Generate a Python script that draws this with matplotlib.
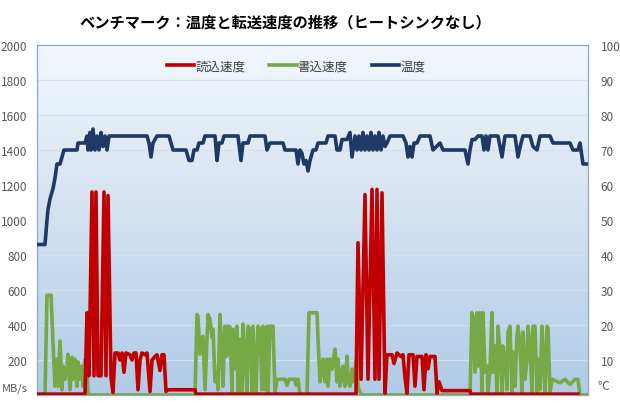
import numpy as np
import matplotlib.pyplot as plt
from matplotlib.colors import LinearSegmentedColormap

plt.rcParams['font.family'] = ['Noto Sans CJK JP', 'DejaVu Sans']

# sample index (0..551) vs value
temp_t = [0, 8, 10, 11, 13, 16, 18, 19, 20, 23, 25, 27, 40, 41, 48, 50, 51, 53, 54, 56, 58, 60, 62, 64, 66, 68, 70, 72,
          74, 110, 112, 114, 116, 118, 120, 132, 134, 136, 149, 152, 155, 157, 160, 162, 166, 168, 178, 180, 182, 185,
          187, 201, 204, 206, 211, 213, 228, 230, 233, 246, 248, 259, 261, 263, 265, 267, 269, 271, 273, 276, 279,
          281, 289, 291, 298, 300, 303, 305, 310, 313, 315, 318, 320, 322, 324, 326, 328, 330, 332, 334, 336, 338,
          340, 342, 344, 346, 348, 350, 353, 366, 369, 371, 373, 375, 377, 380, 383, 393, 396, 403, 406, 428, 431,
          433, 435, 438, 441, 445, 447, 449, 451, 453, 461, 465, 468, 478, 481, 484, 486, 493, 496, 500, 503, 513,
          516, 533, 536, 541, 543, 546, 551]
temp_v = [43, 43, 50, 53, 56, 59, 62, 64, 66, 66, 68, 70, 70, 72, 72, 74, 70, 75, 70, 76, 70, 74, 70, 75, 71, 74, 70, 74,
          74, 74, 72, 68, 72, 73, 74, 74, 72, 70, 70, 67, 67, 70, 70, 72, 72, 74, 74, 67, 72, 72,
          74, 74, 67, 72, 72, 74, 74, 70, 72, 72, 70, 70, 66, 70, 69, 66, 67, 64, 67, 70, 70,
          72, 72, 74, 74, 70, 70, 73, 73, 75, 68, 74, 70, 74, 70, 75, 70, 74, 70, 75, 70, 74,
          70, 75, 70, 74, 71, 72, 74, 74, 72, 68, 71, 68, 72, 72, 74, 74, 70, 72, 70, 70, 66,
          70, 73, 73, 74, 74, 70, 74, 70, 74, 74, 68, 74, 74, 68, 72, 74, 74, 71, 70, 74, 74,
          72, 72, 70, 70, 72, 66, 66]

read_t = [0, 48, 50, 52, 55, 57, 59, 61, 64, 67, 69, 71, 74, 76, 78, 81, 83, 85, 87, 89, 93, 95, 97, 99, 101, 103, 105,
          108, 110, 113, 115, 118, 120, 123, 125, 127, 129, 131, 158, 159, 319, 321, 324, 328, 331, 335, 338, 340, 342,
          345, 348, 350, 355, 357, 360, 364, 366, 368, 370, 372, 376, 378, 380, 385, 387, 389, 391, 393, 398, 400, 402,
          405, 433, 434, 541]
read_v = [5, 5, 470, 110, 1160, 110, 1160, 110, 110, 1160, 110, 1140, 100, 15, 240, 240, 200, 240, 130, 240, 230, 200,
          240, 240, 30, 200, 240, 230, 240, 20, 200, 220, 230, 140, 230, 230, 20, 30, 30, 5, 5, 870, 90, 1145, 90, 1175,
          90, 1175, 90, 1155, 10, 230, 230, 180, 240, 220, 230, 100, 10, 230, 230, 50, 220, 220, 30, 230, 150, 220,
          220, 10, 75, 25, 25, 5, 5]

write_t = [0, 8, 10, 14, 16, 18, 20, 21, 23, 25, 26, 28, 30, 31, 33, 35, 36, 38, 40, 41, 43, 45, 46, 48, 50, 51, 53,
           158, 160, 161, 163, 166, 168, 171, 173, 175, 176, 178, 180, 181, 183, 185, 186, 188, 190, 191, 193, 195,
           196, 198, 200, 201, 203, 205, 206, 208, 210, 211, 213, 215, 216, 219, 221, 223, 225, 226, 228, 230, 231,
           233, 236, 238, 240, 248, 250, 252, 258, 259, 261, 263, 270, 272, 280, 281, 283, 285, 286, 288, 290, 291,
           293, 295, 296, 298, 300, 301, 303, 305, 306, 308, 310, 311, 313, 315, 316, 318, 320, 321, 323, 325, 433,
           435, 436, 438, 440, 441, 443, 445, 446, 448, 450, 451, 453, 455, 456, 458, 460, 461, 463, 465, 466, 468,
           470, 471, 473, 475, 476, 478, 480, 481, 483, 485, 486, 488, 490, 491, 493, 495, 496, 498, 500, 501, 503,
           505, 506, 508, 510, 511, 513, 515, 523, 528, 533, 538, 541, 543, 551]
write_v = [0, 0, 570, 570, 300, 50, 205, 50, 308, 30, 165, 90, 165, 233, 30, 216, 90, 205, 50, 190, 90, 165, 50, 205,
           130, 15, 0,
           0, 460, 450, 233, 335, 30, 460, 433, 330, 375, 75, 130, 30, 460, 222, 50, 393, 222, 393, 390, 15,
           375, 150, 393, 15, 320, 15, 405, 222, 15, 393, 375, 15, 393, 15, 393, 375, 30, 393, 30, 393, 15,
           393, 393, 15, 90, 90, 55, 90, 90, 55, 90, 0, 0, 470, 470, 320, 75, 165, 205, 75, 205, 50,
           205, 148, 188, 262, 75, 205, 50, 130, 165, 50, 222, 90, 50, 148, 75, 148, 222, 50, 15, 0, 0,
           470, 450, 130, 470, 165, 470, 15, 470, 130, 165, 15, 148, 470, 130, 280, 15, 393, 245, 15, 280, 205,
           30, 360, 393, 15, 245, 50, 336, 393, 280, 15, 360, 90, 205, 393, 280, 15, 393, 393, 15, 205,
           30, 393, 245, 15, 393, 380, 15, 90, 70, 90, 60, 90, 90, 0, 0]

title = 'ベンチマーク：温度と転送速度の推移（ヒートシンクなし）'
labels = ['読込速度', '書込速度', '温度']
colors = ['#c00000', '#77a845', '#1f3864']

fig = plt.figure(figsize=(6.2, 4.1), dpi=100)
ax = fig.add_axes([37/620, 14/410, 551/620, 350/410])

bg = LinearSegmentedColormap.from_list('bg', ['#b0cbe6', '#f3f7fc'])
grad = np.linspace(0, 1, 256).reshape(-1, 1)
ax.imshow(grad, extent=[0, 551, 0, 2000], aspect='auto', cmap=bg, origin='lower', zorder=0)

for yy in range(200, 2000, 200):
    ax.axhline(yy, color='#d8dfe6', lw=0.9, zorder=1)

ax.plot(write_t, write_v, color=colors[1], lw=2.6, zorder=3, label=labels[1])
ax.plot(read_t, read_v, color=colors[0], lw=2.6, zorder=4, label=labels[0])

ax.set_xlim(0, 551)
ax.set_ylim(0, 2000)
ax.set_xticks([])
ax.set_yticks(range(200, 2001, 200))
ax.tick_params(axis='y', length=0, pad=7, labelsize=8.5, labelcolor='#595959')
for s in ax.spines.values():
    s.set_color('#8ea8c0')
    s.set_linewidth(0.9)

ax2 = ax.twinx()
ax2.plot(temp_t, temp_v, color=colors[2], lw=2.6, zorder=5, label=labels[2])
ax2.set_ylim(0, 100)
ax2.set_yticks(range(10, 101, 10))
ax2.tick_params(axis='y', length=0, pad=9, labelsize=8.5, labelcolor='#595959')
for s in ax2.spines.values():
    s.set_visible(False)

ax.text(-0.016, 0.022, 'MB/s', transform=ax.transAxes, ha='right', va='center', fontsize=8, color='#595959')
ax2.text(1.018, 0.028, '℃', transform=ax.transAxes, ha='left', va='center', fontsize=8.5, color='#595959')

h1, l1 = ax.get_legend_handles_labels()
h2, l2 = ax2.get_legend_handles_labels()
hh = [h1[1], h1[0], h2[0]]
ll = [l1[1], l1[0], l2[0]]
ax2.legend(hh, ll, loc='center', bbox_to_anchor=(0.47, 0.94), ncol=3, frameon=False, fontsize=9,
           handlelength=2.2, handletextpad=0.1, columnspacing=1.9, labelcolor='#404040')

fig.text(0.461, 0.945, title, ha='center', va='center', fontsize=11, fontweight='bold')

fig.savefig('out.png', dpi=100)
